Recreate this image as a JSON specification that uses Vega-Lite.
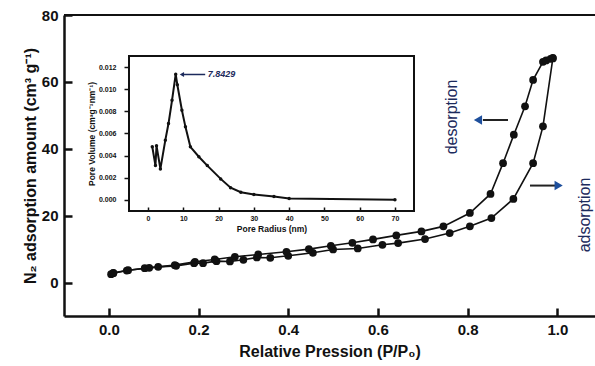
{
  "$schema": "https://vega.github.io/schema/vega-lite/v6.json",
  "width": 531,
  "height": 301,
  "autosize": "none",
  "padding": {"left": 64, "top": 15, "right": 0, "bottom": 50},
  "background": "white",
  "config": {
    "view": {"stroke": null},
    "font": "Liberation Sans",
    "axis": {"grid": false, "labelColor": "#111", "titleColor": "#111", "domainColor": "#111", "tickColor": "#111"}
  },
  "datasets": {
    "iso": [
      {"p": 0.005, "v": 2.5, "s": "adsorption"},
      {"p": 0.01, "v": 2.8, "s": "adsorption"},
      {"p": 0.04, "v": 3.6, "s": "adsorption"},
      {"p": 0.08, "v": 4.3, "s": "adsorption"},
      {"p": 0.11, "v": 4.7, "s": "adsorption"},
      {"p": 0.15, "v": 5.0, "s": "adsorption"},
      {"p": 0.19, "v": 5.8, "s": "adsorption"},
      {"p": 0.21, "v": 5.8, "s": "adsorption"},
      {"p": 0.24, "v": 6.4, "s": "adsorption"},
      {"p": 0.27, "v": 6.3, "s": "adsorption"},
      {"p": 0.30, "v": 6.8, "s": "adsorption"},
      {"p": 0.33, "v": 7.5, "s": "adsorption"},
      {"p": 0.36, "v": 7.4, "s": "adsorption"},
      {"p": 0.40, "v": 8.0, "s": "adsorption"},
      {"p": 0.455, "v": 8.9, "s": "adsorption"},
      {"p": 0.50, "v": 9.9, "s": "adsorption"},
      {"p": 0.555, "v": 10.2, "s": "adsorption"},
      {"p": 0.61, "v": 11.3, "s": "adsorption"},
      {"p": 0.645, "v": 11.8, "s": "adsorption"},
      {"p": 0.705, "v": 13.0, "s": "adsorption"},
      {"p": 0.76, "v": 14.8, "s": "adsorption"},
      {"p": 0.805, "v": 16.8, "s": "adsorption"},
      {"p": 0.853, "v": 19.3, "s": "adsorption"},
      {"p": 0.902, "v": 25.0, "s": "adsorption"},
      {"p": 0.946, "v": 35.7, "s": "adsorption"},
      {"p": 0.968, "v": 46.7, "s": "adsorption"},
      {"p": 0.99, "v": 67.0, "s": "adsorption"},
      {"p": 0.01, "v": 2.9, "s": "desorption"},
      {"p": 0.043, "v": 3.7, "s": "desorption"},
      {"p": 0.09, "v": 4.4, "s": "desorption"},
      {"p": 0.147, "v": 5.2, "s": "desorption"},
      {"p": 0.192, "v": 6.2, "s": "desorption"},
      {"p": 0.236, "v": 6.9, "s": "desorption"},
      {"p": 0.281, "v": 7.7, "s": "desorption"},
      {"p": 0.333, "v": 8.4, "s": "desorption"},
      {"p": 0.396, "v": 9.2, "s": "desorption"},
      {"p": 0.446, "v": 10.0, "s": "desorption"},
      {"p": 0.495, "v": 11.0, "s": "desorption"},
      {"p": 0.543, "v": 11.9, "s": "desorption"},
      {"p": 0.589, "v": 12.9, "s": "desorption"},
      {"p": 0.641, "v": 14.1, "s": "desorption"},
      {"p": 0.697, "v": 15.3, "s": "desorption"},
      {"p": 0.746, "v": 16.8, "s": "desorption"},
      {"p": 0.805, "v": 20.8, "s": "desorption"},
      {"p": 0.851, "v": 26.5, "s": "desorption"},
      {"p": 0.879, "v": 35.7, "s": "desorption"},
      {"p": 0.903, "v": 44.2, "s": "desorption"},
      {"p": 0.928, "v": 52.7, "s": "desorption"},
      {"p": 0.946, "v": 60.6, "s": "desorption"},
      {"p": 0.968, "v": 66.0, "s": "desorption"},
      {"p": 0.975, "v": 66.4, "s": "desorption"},
      {"p": 0.985, "v": 66.9, "s": "desorption"},
      {"p": 0.99, "v": 67.2, "s": "desorption"}
    ],
    "labels": [
      {"p": 0.765, "v": 49.5, "t": "desorption"},
      {"p": 1.062, "v": 20.2, "t": "adsorption"}
    ],
    "arrows": [
      {"p": 0.834, "p2": 0.890, "v": 48.6, "head": 0.823, "shape": "triangle-left"},
      {"p": 0.939, "p2": 0.995, "v": 29.0, "head": 1.003, "shape": "triangle-right"}
    ],
    "psd": [
      {"r": 1.2, "pv": 0.0048},
      {"r": 2.1, "pv": 0.0031},
      {"r": 2.4, "pv": 0.0049},
      {"r": 3.5, "pv": 0.0028},
      {"r": 4.9, "pv": 0.0054},
      {"r": 5.8, "pv": 0.0069},
      {"r": 6.8, "pv": 0.0090},
      {"r": 7.8429, "pv": 0.01136},
      {"r": 8.3, "pv": 0.0104},
      {"r": 9.6, "pv": 0.0081},
      {"r": 10.6, "pv": 0.0066},
      {"r": 12.0, "pv": 0.0048},
      {"r": 14.4, "pv": 0.0039},
      {"r": 16.8, "pv": 0.0031},
      {"r": 20.6, "pv": 0.0019},
      {"r": 23.4, "pv": 0.0011},
      {"r": 26.3, "pv": 0.0007},
      {"r": 30.0, "pv": 0.0005},
      {"r": 35.7, "pv": 0.0003},
      {"r": 40.0, "pv": 0.00012},
      {"r": 70.0, "pv": 0.00002}
    ],
    "peak": [
      {"r": 9.6, "r2": 16.2, "pv": 0.01133, "t": "7.8429", "tr": 16.9}
    ]
  },
  "layer": [
    {
      "layer": [
        {
          "data": {"values": [{}]},
          "mark": {"type": "rule", "stroke": "#111", "strokeWidth": 2},
          "encoding": {"y": {"datum": 80, "type": "quantitative"}}
        },
        {
          "data": {"name": "iso"},
          "mark": {"type": "line", "color": "#111", "strokeWidth": 1.6},
          "encoding": {
            "x": {"field": "p", "type": "quantitative"},
            "y": {"field": "v", "type": "quantitative"},
            "detail": {"field": "s"}
          }
        },
        {
          "data": {"name": "iso"},
          "mark": {"type": "point", "filled": true, "color": "#111", "size": 60, "opacity": 1},
          "encoding": {
            "x": {"field": "p", "type": "quantitative"},
            "y": {"field": "v", "type": "quantitative"}
          }
        },
        {
          "data": {"name": "labels"},
          "mark": {"type": "text", "angle": 270, "fontSize": 16, "color": "#1c2a5c", "align": "center", "baseline": "middle"},
          "encoding": {
            "x": {"field": "p", "type": "quantitative"},
            "y": {"field": "v", "type": "quantitative"},
            "text": {"field": "t"}
          }
        },
        {
          "data": {"name": "arrows"},
          "mark": {"type": "rule", "stroke": "#222", "strokeWidth": 2},
          "encoding": {
            "x": {"field": "p", "type": "quantitative"},
            "x2": {"field": "p2"},
            "y": {"field": "v", "type": "quantitative"}
          }
        },
        {
          "data": {"name": "arrows"},
          "mark": {"type": "point", "filled": true, "color": "#1e4f9c", "size": 90, "opacity": 1},
          "encoding": {
            "x": {"field": "head", "type": "quantitative"},
            "y": {"field": "v", "type": "quantitative"},
            "shape": {"field": "shape", "type": "nominal", "scale": null}
          }
        }
      ],
      "encoding": {
        "x": {
          "type": "quantitative",
          "scale": {"domain": [-0.1, 1.084], "nice": false, "zero": false},
          "axis": {
            "orient": "bottom",
            "values": [0, 0.2, 0.4, 0.6, 0.8, 1.0],
            "format": ".1f",
            "domainWidth": 2.5,
            "tickWidth": 2.5,
            "tickSize": -8,
            "labelPadding": 14,
            "labelFontSize": 15,
            "labelFontWeight": "bold",
            "title": "Relative Pression (P/P₀)",
            "titleFontSize": 16,
            "titleFontWeight": "bold",
            "titlePadding": 6
          }
        },
        "y": {
          "type": "quantitative",
          "scale": {"domain": [-10, 80], "nice": false, "zero": false},
          "axis": {
            "orient": "left",
            "values": [0, 20, 40, 60, 80],
            "domainWidth": 2.5,
            "tickWidth": 2.5,
            "tickSize": -8,
            "labelPadding": 14,
            "labelFontSize": 15,
            "labelFontWeight": "bold",
            "title": "N₂ adsorption amount (cm³ g⁻¹)",
            "titleFontSize": 16,
            "titleFontWeight": "bold",
            "titlePadding": 3
          }
        }
      }
    },
    {
      "layer": [
        {
          "data": {"values": [{}]},
          "mark": {"type": "rect", "fill": "white", "stroke": "#111", "strokeWidth": 2},
          "encoding": {
            "x": {"datum": -5.4, "type": "quantitative"},
            "x2": {"datum": 75.4},
            "y": {"datum": -0.001, "type": "quantitative"},
            "y2": {"datum": 0.013}
          }
        },
        {
          "data": {"name": "psd"},
          "mark": {"type": "line", "color": "#111", "strokeWidth": 2},
          "encoding": {
            "x": {"field": "r", "type": "quantitative"},
            "y": {"field": "pv", "type": "quantitative"}
          }
        },
        {
          "data": {"name": "psd"},
          "mark": {"type": "point", "filled": true, "color": "#111", "size": 12, "opacity": 1},
          "encoding": {
            "x": {"field": "r", "type": "quantitative"},
            "y": {"field": "pv", "type": "quantitative"}
          }
        },
        {
          "data": {"name": "peak"},
          "mark": {"type": "rule", "stroke": "#1c2a5c", "strokeWidth": 1.5},
          "encoding": {
            "x": {"field": "r", "type": "quantitative"},
            "x2": {"field": "r2"},
            "y": {"field": "pv", "type": "quantitative"}
          }
        },
        {
          "data": {"name": "peak"},
          "mark": {"type": "point", "shape": "triangle-left", "filled": true, "color": "#1c2a5c", "size": 25, "opacity": 1},
          "encoding": {
            "x": {"field": "r", "type": "quantitative"},
            "y": {"field": "pv", "type": "quantitative"}
          }
        },
        {
          "data": {"name": "peak"},
          "mark": {"type": "text", "fontSize": 9, "fontStyle": "italic", "fontWeight": "bold", "color": "#1c2a5c", "align": "left", "baseline": "middle"},
          "encoding": {
            "x": {"field": "tr", "type": "quantitative"},
            "y": {"field": "pv", "type": "quantitative"},
            "text": {"field": "t"}
          }
        }
      ],
      "encoding": {
        "x": {
          "type": "quantitative",
          "scale": {"domain": [-5.4, 75.4], "range": [65, 350], "nice": false, "zero": false},
          "axis": {
            "orient": "bottom",
            "offset": -105,
            "zindex": 1,
            "domain": false,
            "values": [0, 10, 20, 30, 40, 50, 60, 70],
            "tickSize": -4,
            "tickWidth": 1.5,
            "labelPadding": 7,
            "labelFontSize": 7,
            "labelFontWeight": "bold",
            "title": "Pore Radius (nm)",
            "titleFontSize": 8.5,
            "titleFontWeight": "bold",
            "titlePadding": 3
          }
        },
        "y": {
          "type": "quantitative",
          "scale": {"domain": [-0.001, 0.013], "range": [196, 41], "nice": false, "zero": false},
          "axis": {
            "orient": "left",
            "offset": -65,
            "zindex": 1,
            "domain": false,
            "values": [0, 0.002, 0.004, 0.006, 0.008, 0.01, 0.012],
            "format": ".3f",
            "tickSize": 5,
            "tickWidth": 1.5,
            "labelPadding": 8,
            "labelFontSize": 7,
            "labelFontWeight": "bold",
            "title": "Pore Volume (cm³g⁻¹nm⁻¹)",
            "titleFontSize": 8.5,
            "titleFontWeight": "bold",
            "titlePadding": 2
          }
        }
      }
    }
  ],
  "resolve": {"scale": {"x": "independent", "y": "independent"}, "axis": {"x": "independent", "y": "independent"}}
}
